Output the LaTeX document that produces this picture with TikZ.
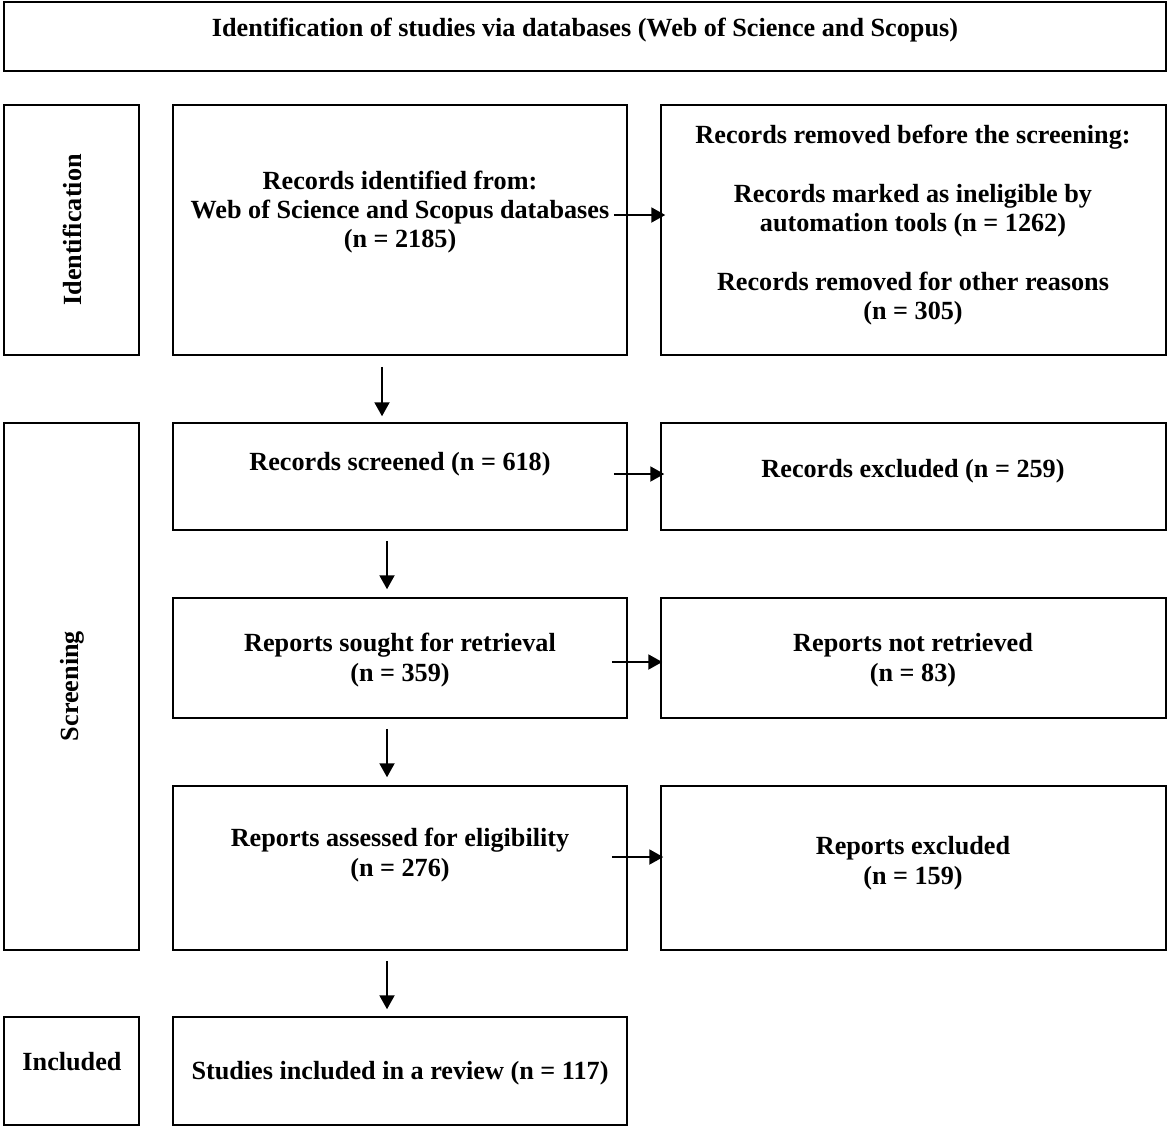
\documentclass[tikz,border=0pt]{standalone}
\usepackage{fontspec}
\setmainfont{Liberation Serif}
\usetikzlibrary{arrows.meta}

\begin{document}
\begin{tikzpicture}[x=0.5pt, y=-0.5pt]
	\tikzset{
		box/.style = {rectangle, draw, line width=0.75pt, inner sep=0pt},
		sz/.style 2 args = {minimum width=#1*0.5pt, minimum height=#2*0.5pt},
		txt/.style = {align=center, font=\fontsize{13.1}{14.7}\selectfont\bfseries},
		flow/.style = {-{Triangle[length=7pt, width=7.5pt]}, line width=1pt}
	}
	\useasboundingbox (0, 0) rectangle (1170, 1129);
	% boxes
	\node[box, sz={1162}{69}] (ttl) at (585, 36.5) {};
	\node[box, sz={135}{250}] (lid) at (71.5, 230) {};
	\node[box, sz={454}{250}] (idf) at (400, 230) {};
	\node[box, sz={505}{250}] (rmv) at (913.5, 230) {};
	\node[box, sz={135}{527}] (lsc) at (71.5, 686.5) {};
	\node[box, sz={454}{107}] (scr) at (400, 476.5) {};
	\node[box, sz={505}{107}] (exc) at (913.5, 476.5) {};
	\node[box, sz={454}{120}] (sgt) at (400, 658) {};
	\node[box, sz={505}{120}] (nrt) at (913.5, 658) {};
	\node[box, sz={454}{164}] (ass) at (400, 868) {};
	\node[box, sz={505}{164}] (rex) at (913.5, 868) {};
	\node[box, sz={135}{108}] (lin) at (71.5, 1071) {};
	\node[box, sz={454}{108}] (inc) at (400, 1071) {};
	% texts
	\node[txt] (tttl) at (585, 30) {Identification of studies via databases (Web of Science and Scopus)};
	\node[txt, rotate=90] (tlid) at (72, 230) {Identification};
	\node[txt] (tidf) at (400, 212) {Records identified from:\\Web of Science and Scopus databases\\(n = 2185)};
	\node[txt] (trmv) at (913, 225) {Records removed before the screening:\\[14.7pt]
		Records marked as ineligible by\\automation tools (n = 1262)\\[14.7pt]
		Records removed for other reasons\\(n = 305)};
	\node[txt, rotate=90] (tlsc) at (72, 686) {Screening};
	\node[txt] (tscr) at (400, 464) {Records screened (n = 618)};
	\node[txt] (texc) at (913, 471) {Records excluded (n = 259)};
	\node[txt] (tsgt) at (400, 660) {Reports sought for retrieval\\(n = 359)};
	\node[txt] (tnrt) at (913, 660) {Reports not retrieved\\(n = 83)};
	\node[txt] (tass) at (400, 855) {Reports assessed for eligibility\\(n = 276)};
	\node[txt] (trex) at (913, 863) {Reports excluded\\(n = 159)};
	\node[txt] (tlin) at (72, 1062) {Included};
	\node[txt] (tinc) at (400, 1073) {Studies included in a review (n = 117)};
	% arrows
	\draw[flow] ([xshift=-7pt, yshift=7.5pt]idf.east) -- ([xshift=2.5pt, yshift=7.5pt]rmv.west);
	\draw[flow] ([xshift=-7pt, yshift=1.25pt]scr.east) -- ([xshift=2pt, yshift=1.25pt]exc.west);
	\draw[flow] ([xshift=-8pt, yshift=-2pt]sgt.east) -- ([xshift=1pt, yshift=-2pt]nrt.west);
	\draw[flow] ([xshift=-8pt, yshift=5.5pt]ass.east) -- ([xshift=1.5pt, yshift=5.5pt]rex.west);
	\draw[flow] ([xshift=-9pt, yshift=-5.5pt]idf.south) -- ([xshift=-9pt, yshift=3pt]scr.north);
	\draw[flow] ([xshift=-6.5pt, yshift=-5pt]scr.south) -- ([xshift=-6.5pt, yshift=4pt]sgt.north);
	\draw[flow] ([xshift=-6.5pt, yshift=-5pt]sgt.south) -- ([xshift=-6.5pt, yshift=4pt]ass.north);
	\draw[flow] ([xshift=-6.5pt, yshift=-5pt]ass.south) -- ([xshift=-6.5pt, yshift=3.5pt]inc.north);
\end{tikzpicture}
\end{document}
